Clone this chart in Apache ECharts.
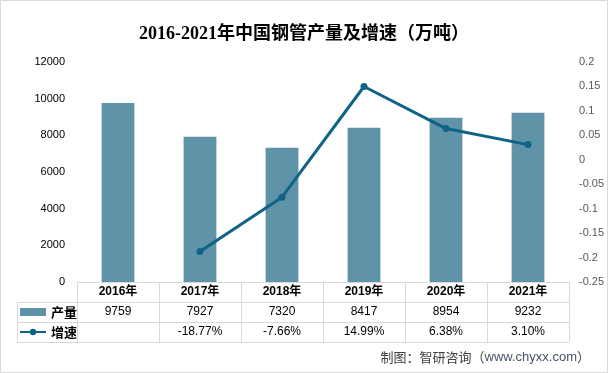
<!DOCTYPE html>
<html><head><meta charset="utf-8">
<script src="https://cdn.jsdelivr.net/npm/echarts@6/dist/echarts.min.js"></script>
<style>html,body{margin:0;padding:0;background:#fff}#c{width:608px;height:373px}</style>
</head><body><div id="c"></div>
<script>
const years = ['2016年','2017年','2018年','2019年','2020年','2021年'];
const production = [9759, 7927, 7320, 8417, 8954, 9232];
const growth = [null, -0.1877, -0.0766, 0.1499, 0.0638, 0.0310];
const growthLabels = ['', '-18.77%', '-7.66%', '14.99%', '6.38%', '3.10%'];
const leftTicks = {min: 0, max: 12000, interval: 2000};
const rightTicks = {min: -0.25, max: 0.2, interval: 0.05};

const barColor = '#5e93a8';
const lineColor = '#0f6385';
const gridColor = '#d9d9d9';

const W = 608, H = 373;
const gL = 77, gR = 569, gT = 62, gB = 282;
const rowH = 20, labelL = 17;

const chart = echarts.init(document.getElementById('c'), null, {width: W, height: H});

const g = [];
function hl(x1, x2, y) { g.push({type:'line', shape:{x1:x1, y1:y+0.5, x2:x2, y2:y+0.5}, style:{stroke:gridColor, lineWidth:1}, z:10}); }
function vl(x, y1, y2) { g.push({type:'line', shape:{x1:x+0.5, y1:y1, x2:x+0.5, y2:y2}, style:{stroke:gridColor, lineWidth:1}, z:10}); }
hl(gL, gR, gB);
hl(labelL, gR, gB + rowH);
hl(labelL, gR, gB + 2*rowH);
hl(labelL, gR, gB + 3*rowH);
const colW = (gR - gL) / years.length;
for (let i = 0; i <= years.length; i++) vl(Math.round(gL + i*colW), gB, gB + 3*rowH);
vl(labelL, gB + rowH, gB + 3*rowH);
g.push({type:'rect', shape:{x:0.5, y:0.5, width:W-1, height:H-1}, style:{fill:'none', stroke:gridColor, lineWidth:1}, z:10});
g.push({type:'text', x:590, y:357, style:{
  text:'{a|制图：智研咨询（}{b|www.chyxx.com}{a|）}', align:'right', verticalAlign:'middle',
  rich:{a:{fontSize:13, fill:'#404040', fontFamily:'Noto Sans CJK SC'}, b:{fontSize:13, fill:'#44546a', fontFamily:'Liberation Sans'}}
}, z:10});

const cellFont = 'Liberation Sans, Noto Sans CJK SC';
chart.setOption({
  animation: false,
  backgroundColor: '#fff',
  title: {
    text: '2016-2021年中国钢管产量及增速（万吨）',
    left: 'center', top: 25, padding: 0,
    textStyle: {fontSize: 18, fontWeight: 'bold', color: '#000', fontFamily: 'Liberation Serif, Noto Sans CJK SC'}
  },
  legend: {
    orient: 'vertical', left: 19, top: gB + rowH + 3, padding: 0,
    itemWidth: 26, itemHeight: 8, itemGap: 6,
    textStyle: {fontSize: 13, fontWeight: 'bold', color: '#000', fontFamily: 'Noto Sans CJK SC', lineHeight: 14, height: 14},
    data: [{name:'产量', icon:'rect'}, {name:'增速'}]
  },
  grid: {left: gL, right: W - gR, top: gT, bottom: H - gB},
  xAxis: {
    type: 'category', data: years,
    axisLine: {show: true, lineStyle: {color: gridColor}},
    axisTick: {show: false},
    axisLabel: {
      interval: 0, margin: 0, color: '#000',
      formatter: function (v, i) {
        return '{y|' + v + '}\n{v|' + production[i] + '}\n{v|' + (growthLabels[i] || '\u00a0') + '}';
      },
      rich: {
        y: {fontSize: 12, fontWeight: 'bold', lineHeight: rowH, color: '#000', fontFamily: cellFont},
        v: {fontSize: 12, lineHeight: rowH, color: '#000', fontFamily: cellFont}
      }
    }
  },
  yAxis: [
    {type: 'value', min: leftTicks.min, max: leftTicks.max, interval: leftTicks.interval,
     splitLine: {show: false}, axisLine: {show: false}, axisTick: {show: false},
     axisLabel: {fontSize: 11, color: '#000', margin: 12, fontFamily: 'Liberation Sans',
       formatter: function (v) { return String(v); }}},
    {type: 'value', min: rightTicks.min, max: rightTicks.max, interval: rightTicks.interval,
     splitLine: {show: false}, axisLine: {show: false}, axisTick: {show: false},
     axisLabel: {fontSize: 11, color: '#595959', margin: 10, fontFamily: 'Liberation Sans',
       formatter: function (v) { return String(+v.toFixed(2)); }}}
  ],
  series: [
    {name: '产量', type: 'bar', data: production, barWidth: '40%', itemStyle: {color: barColor}},
    {name: '增速', type: 'line', yAxisIndex: 1, data: growth, symbol: 'circle', symbolSize: 7,
     lineStyle: {width: 3, color: lineColor}, itemStyle: {color: lineColor}}
  ],
  graphic: g
});
</script></body></html>
